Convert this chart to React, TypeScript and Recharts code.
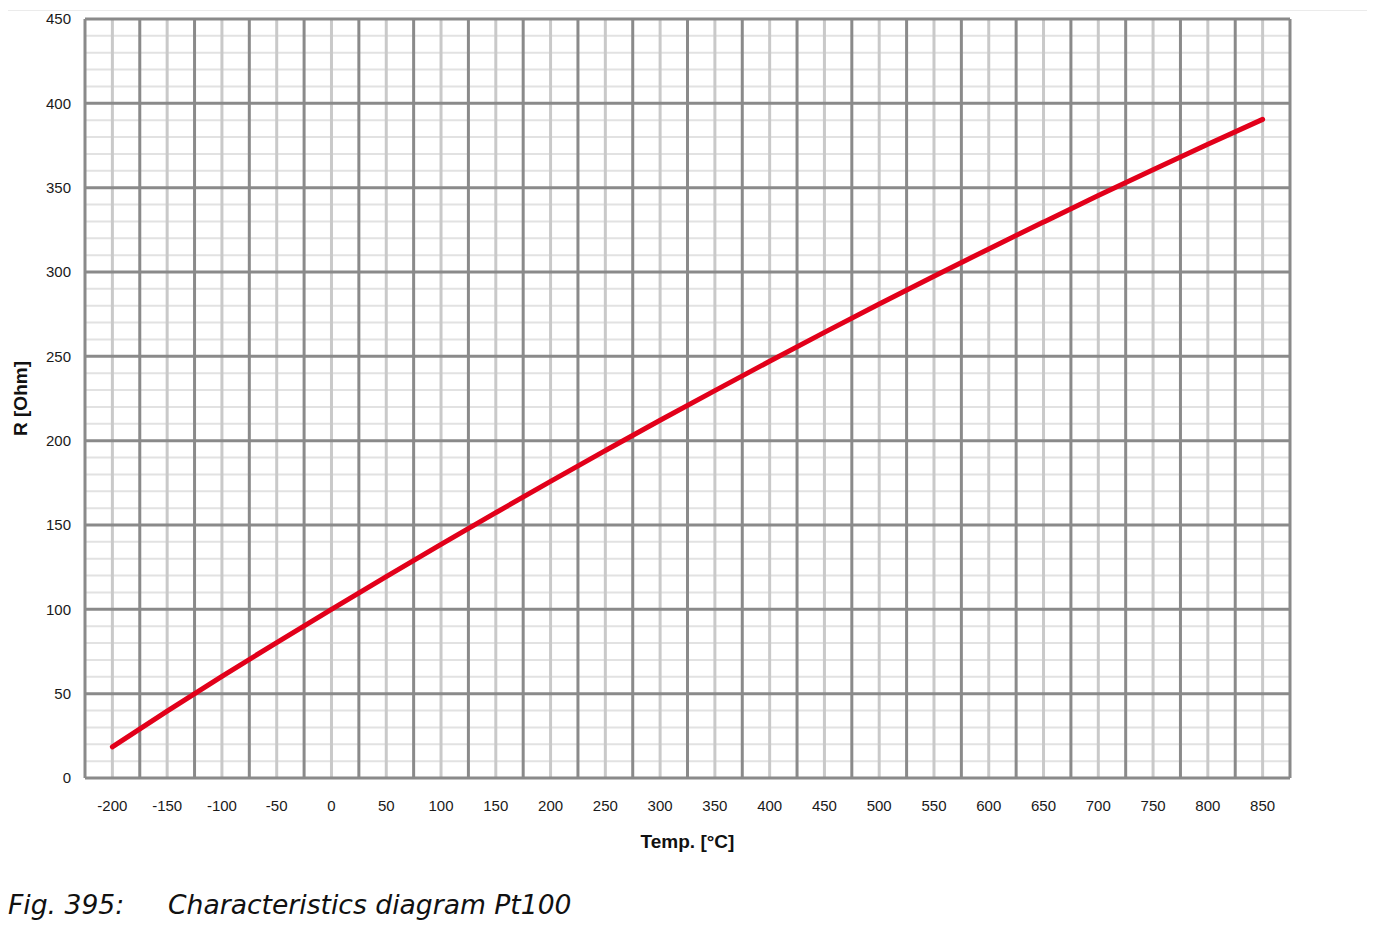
import React from "react";
import { LineChart, Line, XAxis, YAxis, ReferenceLine } from "recharts";

// Pt100 characteristic
const temps = [-200, -150, -100, -50, 0, 50, 100, 150, 200, 250, 300, 350, 400, 450, 500, 550, 600, 650, 700, 750, 800, 850];
const resistance = [18.5, 39.7, 60.3, 80.3, 100, 119.4, 138.5, 157.3, 175.9, 194.1, 212.1, 229.7, 247.1, 264.2, 281.0, 297.5, 313.7, 329.6, 345.3, 360.6, 375.7, 390.5];
const yTicks = [0, 50, 100, 150, 200, 250, 300, 350, 400, 450];
const yMinor = [10, 20, 30, 40, 60, 70, 80, 90, 110, 120, 130, 140, 160, 170, 180, 190, 210, 220, 230, 240, 260, 270, 280, 290, 310, 320, 330, 340, 360, 370, 380, 390, 410, 420, 430, 440];
const xBounds = [-225, -175, -125, -75, -25, 25, 75, 125, 175, 225, 275, 325, 375, 425, 475, 525, 575, 625, 675, 725, 775, 825, 875];

const data = temps.map((t, i) => ({ t, r: resistance[i] }));

const DARK = "#8a8a8a";
const LIGHT_V = "#c9c9c9";
const LIGHT_H = "#e2e2e2";
const tickFont = { fontFamily: "Liberation Sans, Arial, sans-serif", fontSize: 15, fill: "#1a1a1a" };
const titleFont = { fontFamily: "Liberation Sans, Arial, sans-serif", fontSize: 19, fontWeight: 700, fill: "#111" };

export default function App() {
  return (
    <div style={{ marginLeft: -1, marginTop: 2, width: 1362, height: 960, border: "1px solid #ebebeb", borderBottom: "none", position: "relative" }}>
      <LineChart width={1362} height={850} data={data} margin={{ top: 8, right: 80, left: 0, bottom: 20 }}>
        <XAxis
          dataKey="t"
          type="number"
          domain={[-225, 875]}
          ticks={temps}
          interval={0}
          axisLine={false}
          tickLine={false}
          tickSize={0}
          tickMargin={22}
          height={63}
          tick={tickFont}
          label={{ value: "Temp. [°C]", position: "insideBottom", offset: -7, style: titleFont }}
        />
        <YAxis
          type="number"
          domain={[0, 450]}
          ticks={yTicks}
          interval={0}
          axisLine={false}
          tickLine={false}
          tickSize={0}
          tickMargin={14}
          width={77}
          tick={tickFont}
          label={{ value: "R [Ohm]", angle: -90, position: "insideLeft", offset: 12, style: { ...titleFont, textAnchor: "middle" } }}
        />
        {yMinor.map((v) => (
          <ReferenceLine key={"hm" + v} y={v} stroke={LIGHT_H} strokeWidth={2} />
        ))}
        {temps.map((v) => (
          <ReferenceLine key={"vm" + v} x={v} stroke={LIGHT_V} strokeWidth={3} />
        ))}
        {yTicks.map((v) => (
          <ReferenceLine key={"hM" + v} y={v} stroke={DARK} strokeWidth={3} />
        ))}
        {xBounds.map((v) => (
          <ReferenceLine key={"vM" + v} x={v} stroke={DARK} strokeWidth={3} />
        ))}
        <Line
          dataKey="r"
          type="monotone"
          stroke="#e2001a"
          strokeWidth={5}
          strokeLinecap="round"
          dot={false}
          isAnimationActive={false}
        />
      </LineChart>
      <div style={{ position: "absolute", left: 0, top: 879, fontFamily: "DejaVu Sans, sans-serif", fontStyle: "italic", fontSize: 26.6, lineHeight: "30px", color: "#111", whiteSpace: "nowrap" }}>
        <span style={{ display: "inline-block", width: 160 }}>Fig. 395:</span>
        <span>Characteristics diagram Pt100</span>
      </div>
    </div>
  );
}
